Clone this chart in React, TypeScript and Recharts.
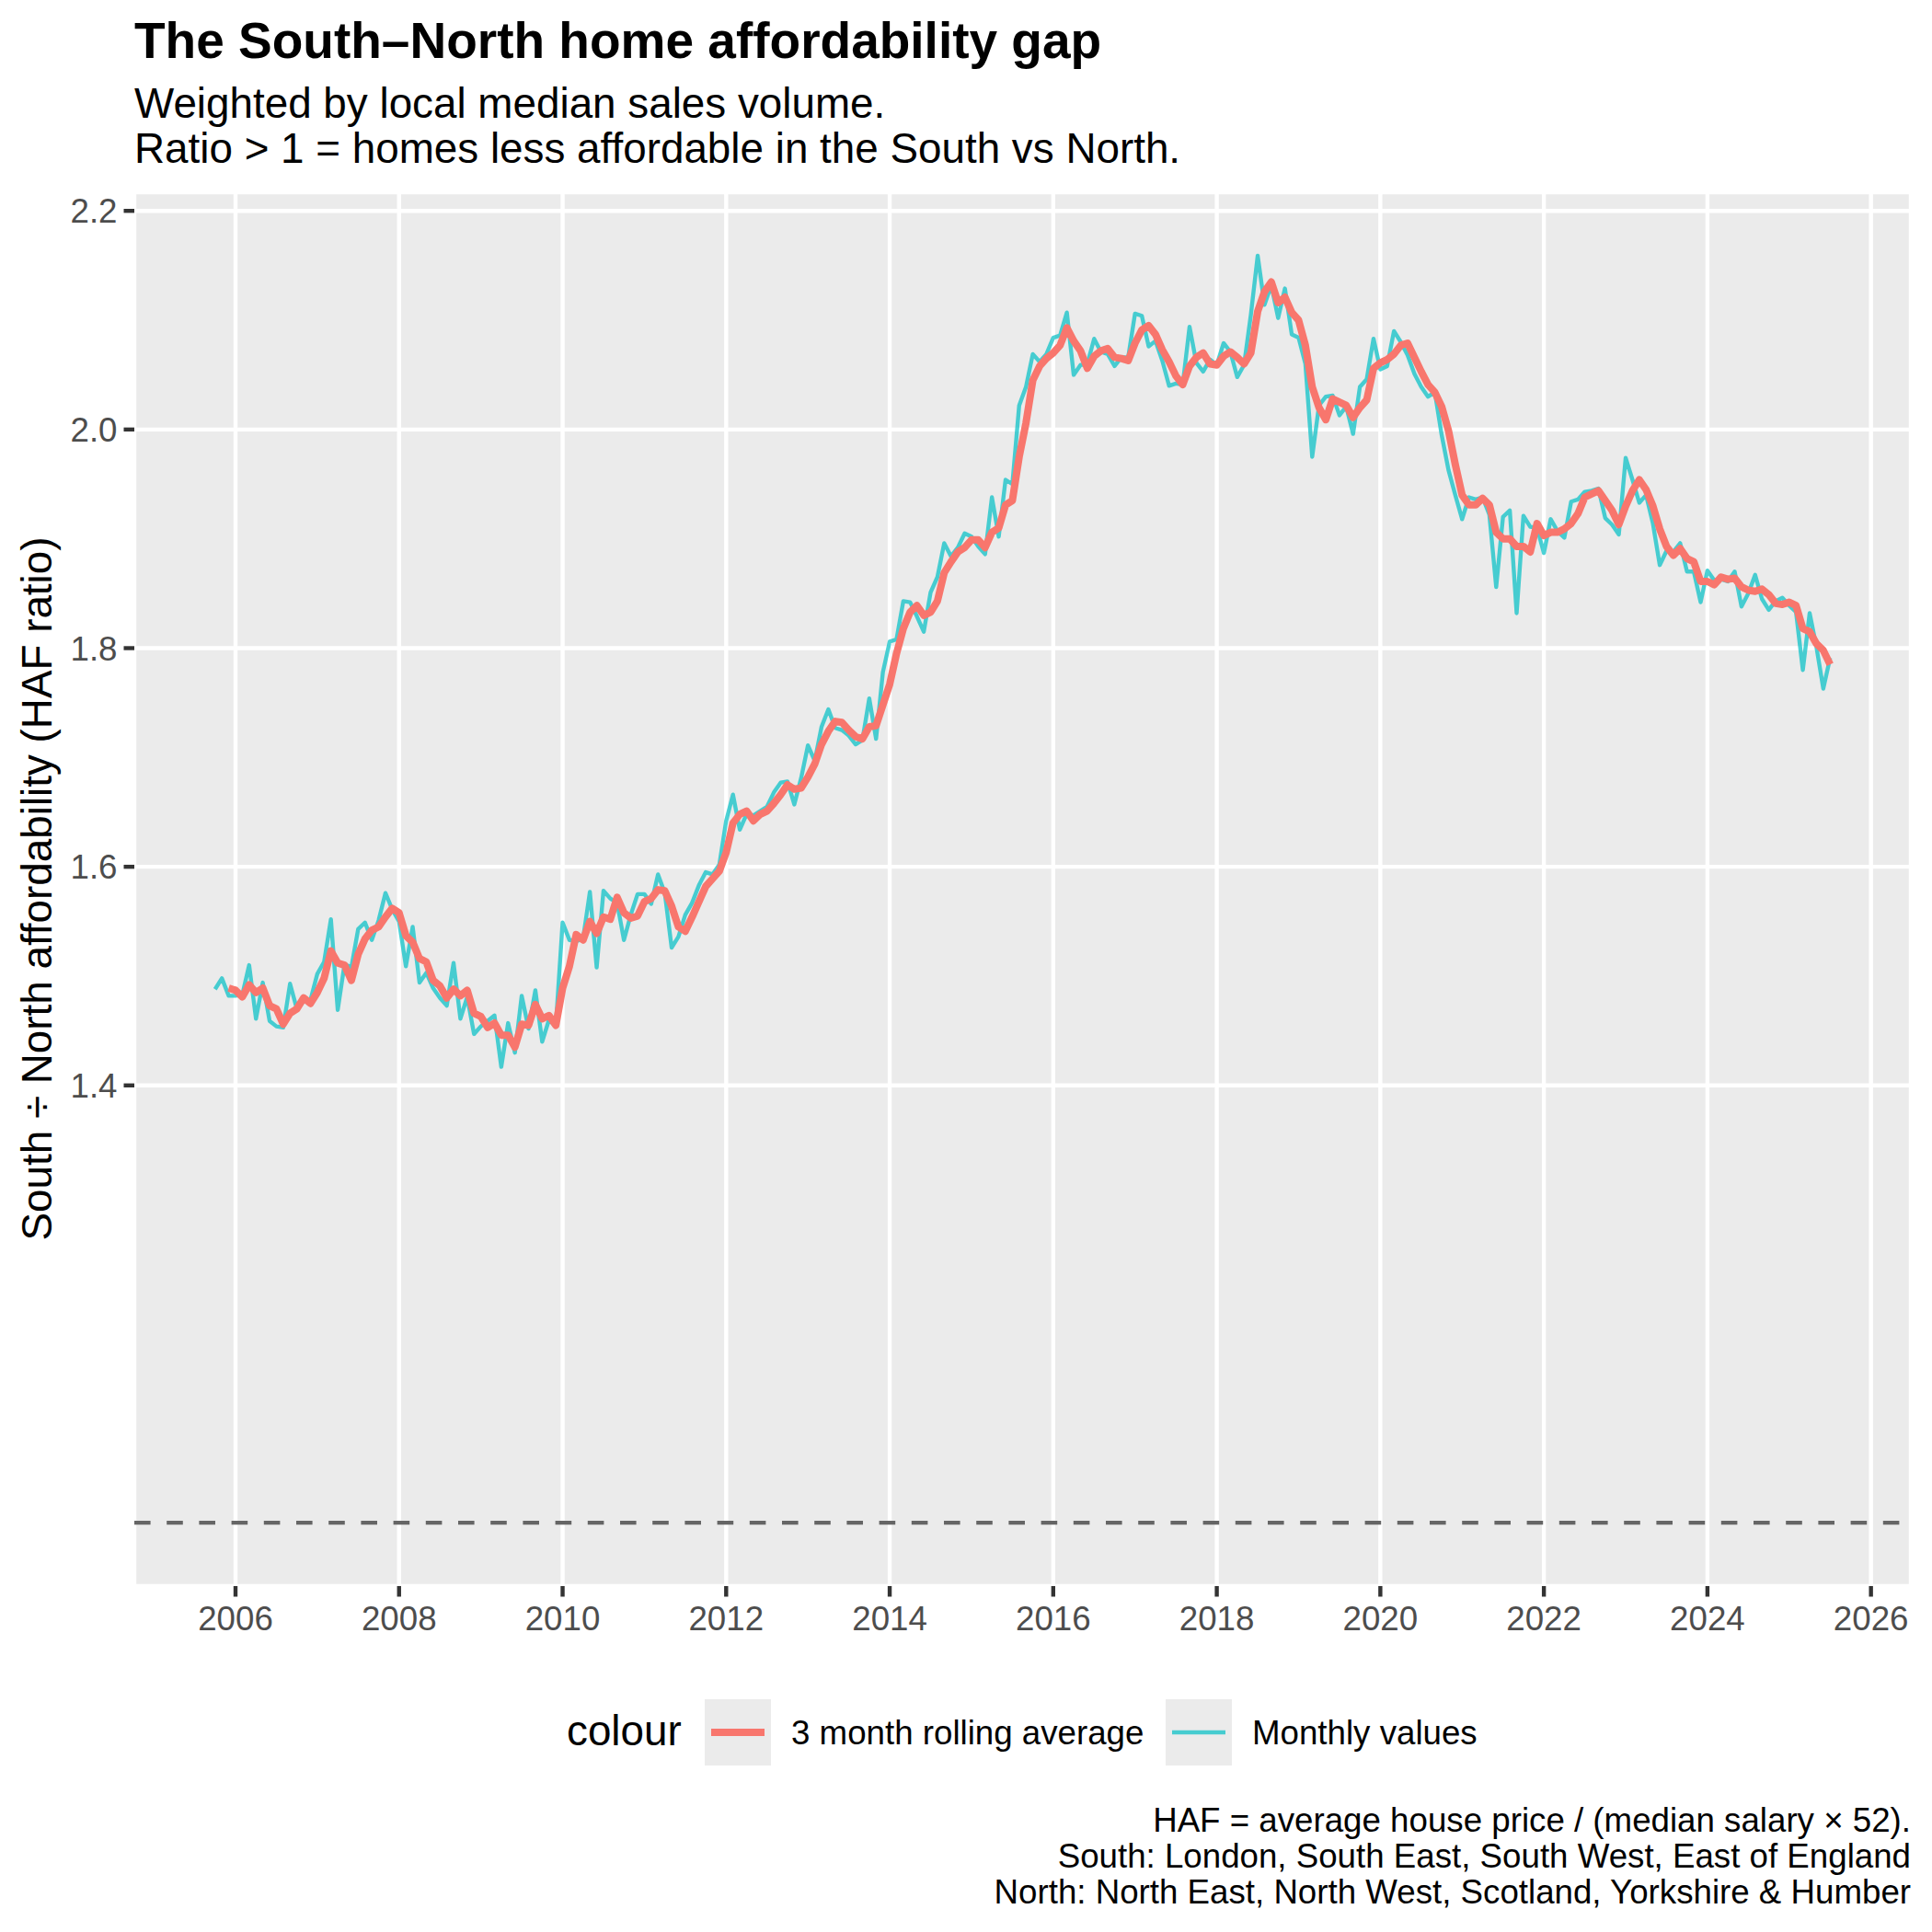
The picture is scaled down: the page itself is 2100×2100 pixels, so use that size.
import { LineChart, Line, XAxis, YAxis, CartesianGrid, ReferenceLine } from "recharts";

// monthly HAF ratio, South / North, Oct 2005 – Jul 2025
const monthly: number[] = [
  1.488, 1.498, 1.482,
  1.482, 1.483, 1.510, 1.461, 1.494, 1.459, 1.454, 1.453, 1.493, 1.470, 1.477, 1.478,
  1.502, 1.513, 1.552, 1.469, 1.511, 1.508, 1.543, 1.549, 1.533, 1.551, 1.576, 1.561,
  1.550, 1.509, 1.545, 1.494, 1.503, 1.489, 1.480, 1.473, 1.512, 1.461, 1.481, 1.447,
  1.454, 1.459, 1.464, 1.417, 1.457, 1.430, 1.482, 1.452, 1.487, 1.440, 1.460, 1.454,
  1.549, 1.533, 1.532, 1.534, 1.577, 1.508, 1.578, 1.571, 1.567, 1.533, 1.556, 1.575,
  1.575, 1.566, 1.593, 1.576, 1.526, 1.536, 1.556, 1.567, 1.583, 1.595, 1.593, 1.602,
  1.642, 1.666, 1.634, 1.648, 1.647, 1.651, 1.655, 1.668, 1.677, 1.678, 1.657, 1.681,
  1.711, 1.697, 1.728, 1.744, 1.727, 1.725, 1.720, 1.712, 1.716, 1.754, 1.717, 1.778,
  1.806, 1.808, 1.843, 1.842, 1.829, 1.815, 1.851, 1.865, 1.896, 1.884, 1.892, 1.905,
  1.902, 1.893, 1.886, 1.938, 1.902, 1.954, 1.950, 2.022, 2.039, 2.069, 2.062, 2.069,
  2.084, 2.086, 2.107, 2.050, 2.059, 2.060, 2.083, 2.071, 2.069, 2.058, 2.066, 2.066,
  2.106, 2.104, 2.076, 2.081, 2.063, 2.040, 2.042, 2.041, 2.094, 2.061, 2.053, 2.064,
  2.059, 2.079, 2.071, 2.048, 2.059, 2.105, 2.159, 2.114, 2.132, 2.102, 2.129, 2.087,
  2.084, 2.060, 1.975, 2.022, 2.030, 2.031, 2.013, 2.021, 1.996, 2.039, 2.046, 2.083,
  2.055, 2.058, 2.090, 2.080, 2.068, 2.051, 2.039, 2.030, 2.034, 1.995, 1.963, 1.940,
  1.918, 1.938, 1.936, 1.938, 1.922, 1.856, 1.920, 1.926, 1.832, 1.921, 1.911, 1.910,
  1.887, 1.918, 1.907, 1.901, 1.934, 1.936, 1.943, 1.944, 1.946, 1.919, 1.913, 1.904,
  1.974, 1.954, 1.933, 1.940, 1.914, 1.876, 1.889, 1.888, 1.896, 1.870, 1.870, 1.842,
  1.871, 1.862, 1.863, 1.861, 1.870, 1.838, 1.850, 1.867, 1.845, 1.835, 1.843, 1.846,
  1.839, 1.833, 1.780, 1.832, 1.801, 1.763, 1.791,
];

// 3 month rolling average, same months (first two have no value)
const rolling: (number | null)[] = [
  null, null, 1.489,
  1.487, 1.481, 1.492, 1.485, 1.489, 1.473, 1.470, 1.456, 1.466, 1.470, 1.480, 1.475,
  1.485, 1.498, 1.523, 1.512, 1.510, 1.496, 1.520, 1.534, 1.542, 1.545, 1.554, 1.562,
  1.558, 1.537, 1.531, 1.516, 1.513, 1.496, 1.491, 1.480, 1.488, 1.482, 1.487, 1.466,
  1.463, 1.453, 1.457, 1.446, 1.446, 1.435, 1.456, 1.455, 1.474, 1.461, 1.464, 1.455,
  1.489, 1.509, 1.538, 1.533, 1.550, 1.539, 1.554, 1.552, 1.572, 1.558, 1.553, 1.555,
  1.568, 1.571, 1.579, 1.578, 1.564, 1.545, 1.541, 1.554, 1.568, 1.582, 1.589, 1.596,
  1.613, 1.640, 1.648, 1.651, 1.642, 1.648, 1.651, 1.658, 1.666, 1.675, 1.671, 1.672,
  1.682, 1.694, 1.712, 1.724, 1.733, 1.732, 1.725, 1.719, 1.717, 1.728, 1.729, 1.748,
  1.767, 1.795, 1.818, 1.833, 1.839, 1.830, 1.833, 1.843, 1.869, 1.879, 1.888, 1.892,
  1.899, 1.899, 1.892, 1.906, 1.910, 1.931, 1.935, 1.975, 2.006, 2.045, 2.058, 2.065,
  2.070, 2.077, 2.093, 2.081, 2.072, 2.056, 2.067, 2.072, 2.074, 2.066, 2.065, 2.063,
  2.079, 2.091, 2.095, 2.087, 2.073, 2.062, 2.049, 2.041, 2.058, 2.066, 2.070, 2.060,
  2.059, 2.067, 2.071, 2.066, 2.060, 2.070, 2.108, 2.126, 2.135, 2.116, 2.121, 2.107,
  2.100, 2.077, 2.039, 2.020, 2.009, 2.028, 2.025, 2.022, 2.011, 2.020, 2.027, 2.056,
  2.061, 2.064, 2.069, 2.077, 2.079, 2.066, 2.053, 2.041, 2.034, 2.021, 1.999, 1.968,
  1.940, 1.931, 1.931, 1.937, 1.931, 1.906, 1.900, 1.900, 1.893, 1.893, 1.888, 1.914,
  1.903, 1.906, 1.906, 1.909, 1.914, 1.923, 1.938, 1.941, 1.944, 1.935, 1.926, 1.913,
  1.930, 1.944, 1.954, 1.945, 1.930, 1.909, 1.893, 1.885, 1.891, 1.882, 1.879, 1.861,
  1.861, 1.858, 1.865, 1.863, 1.864, 1.856, 1.853, 1.852, 1.854, 1.849, 1.841, 1.840,
  1.842, 1.839, 1.818, 1.815, 1.804, 1.798, 1.785,
];

const START_YEAR = 2005;
const START_MONTH = 10;

const xTicks = [2006, 2008, 2010, 2012, 2014, 2016, 2018, 2020, 2022, 2024, 2026];
const yTicks = [1.4, 1.6, 1.8, 2.0, 2.2];
const parity = 1;

const seriesNames = ["3 month rolling average", "Monthly values"];
const captionLines = [
  "HAF = average house price / (median salary × 52).",
  "South: London, South East, South West, East of England",
  "North: North East, North West, Scotland, Yorkshire & Humber",
];

const RED = "#F8766D";
const TEAL = "#00BFC4";
const FONT = "'Liberation Sans', Arial, Helvetica, sans-serif";

const data = monthly.map((v, i) => ({
  t: START_YEAR + (START_MONTH - 1 + i) / 12,
  monthly: v,
  rolling: rolling[i],
}));

export default function App() {
  const tickStyle = { fontSize: 36.7, fill: "#4D4D4D", fontFamily: FONT };
  return (
    <div style={{ position: "absolute", left: 0, top: 0, width: 2100, height: 2100, background: "#fff" }}>
      <LineChart
        width={2100}
        height={1800}
        data={data}
        margin={{ top: 209, right: 23, left: 26, bottom: 16 }}
        style={{ position: "absolute", left: 0, top: 0 }}
      >
        <CartesianGrid fill="#EBEBEB" fillOpacity={1} stroke="#FFFFFF" strokeWidth={4.4} />
        <XAxis
          type="number"
          dataKey="t"
          domain={[2004.7625, 2026.4875]}
          ticks={xTicks}
          interval={0}
          allowDataOverflow
          height={60}
          axisLine={false}
          tickSize={11.5}
          tickMargin={10}
          tickLine={{ stroke: "#333333", strokeWidth: 4.4 }}
          tick={tickStyle}
        />
        <YAxis
          type="number"
          domain={[0.942, 2.217]}
          ticks={yTicks}
          interval={0}
          allowDataOverflow
          width={120}
          axisLine={false}
          tickSize={11.5}
          tickMargin={7}
          tickLine={{ stroke: "#333333", strokeWidth: 4.4 }}
          tick={tickStyle}
          tickFormatter={(v: number) => v.toFixed(1)}
        />
        <ReferenceLine y={parity} stroke="#666666" strokeWidth={4.4} strokeDasharray="17.6 17.6" />
        <Line
          type="linear"
          dataKey="monthly"
          stroke={TEAL}
          strokeOpacity={0.7}
          strokeWidth={4.4}
          strokeLinejoin="round"
          dot={false}
          activeDot={false}
          isAnimationActive={false}
        />
        <Line
          type="linear"
          dataKey="rolling"
          stroke={RED}
          strokeWidth={8}
          strokeLinejoin="round"
          dot={false}
          activeDot={false}
          connectNulls={false}
          isAnimationActive={false}
        />
      </LineChart>

      <svg
        width={2100}
        height={2100}
        style={{ position: "absolute", left: 0, top: 0, pointerEvents: "none" }}
        fontFamily={FONT}
      >
        <text x={146} y={63} fontSize={55} fontWeight="bold" fill="#000">
          The South–North home affordability gap
        </text>
        <text x={146} y={128} fontSize={45.8} fill="#000">
          Weighted by local median sales volume.
        </text>
        <text x={146} y={177} fontSize={45.8} fill="#000">
          Ratio &gt; 1 = homes less affordable in the South vs North.
        </text>

        <text
          transform="translate(56, 966) rotate(-90)"
          textAnchor="middle"
          fontSize={45.8}
          fill="#000"
        >
          South ÷ North affordability (HAF ratio)
        </text>

        {/* legend */}
        <text x={616} y={1897} fontSize={45.8} fill="#000">
          colour
        </text>
        <rect x={766} y={1847} width={72} height={72} fill="#EBEBEB" />
        <line x1={773} x2={831} y1={1883} y2={1883} stroke={RED} strokeWidth={8} />
        <text x={860} y={1896} fontSize={36.7} fill="#000">
          {seriesNames[0]}
        </text>
        <rect x={1267} y={1847} width={72} height={72} fill="#EBEBEB" />
        <line x1={1274} x2={1332} y1={1883} y2={1883} stroke={TEAL} strokeOpacity={0.7} strokeWidth={4.4} />
        <text x={1361} y={1896} fontSize={36.7} fill="#000">
          {seriesNames[1]}
        </text>

        {captionLines.map((line, i) => (
          <text key={i} x={2077} y={1991 + i * 39} fontSize={36.7} textAnchor="end" fill="#000">
            {line}
          </text>
        ))}
      </svg>
    </div>
  );
}
